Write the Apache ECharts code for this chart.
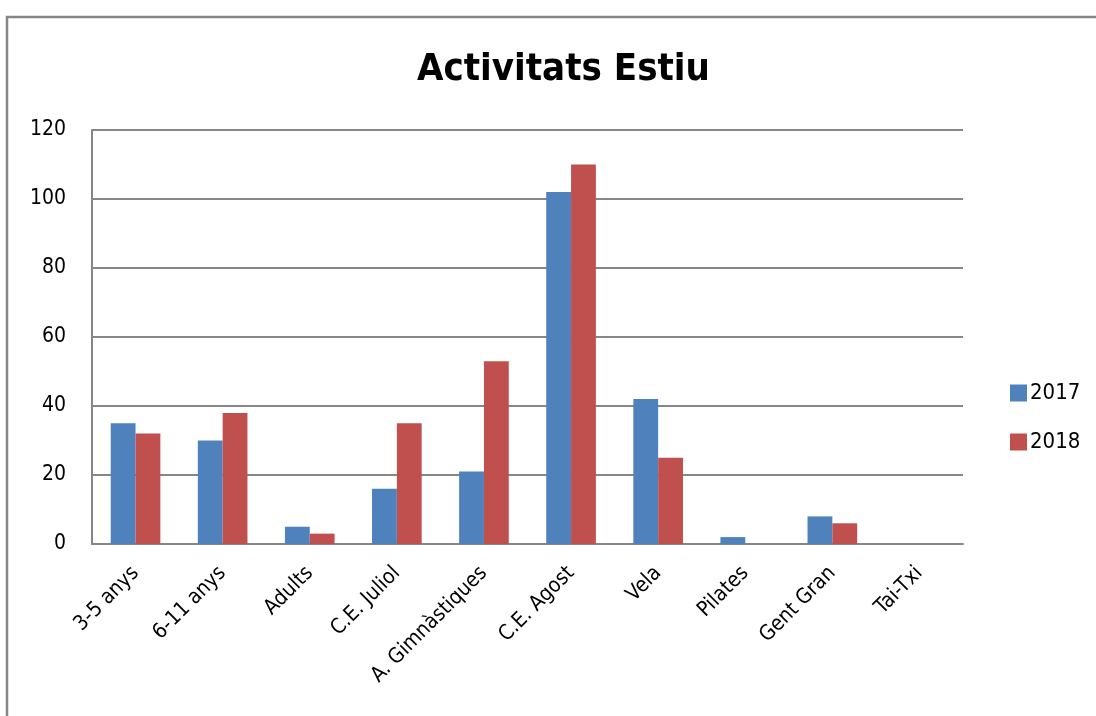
<!DOCTYPE html>
<html>
<head>
<meta charset="utf-8">
<script src="https://cdn.jsdelivr.net/npm/echarts@6/dist/echarts.min.js"></script>
<style>
	html, body { margin: 0; padding: 0; background: #fff; }
	#chart { width: 1096px; height: 716px; }
</style>
</head>
<body>
<div id="chart"></div>
<script>
// dades del gràfic
let categories = ['3-5 anys', '6-11 anys', 'Adults', 'C.E. Juliol', 'A. Gimnàstiques', 'C.E. Agost', 'Vela', 'Pilates', 'Gent Gran', 'Tai-Txi'];
let data2017 = [35, 30, 5, 16, 21, 102, 42, 2, 8, 0];
let data2018 = [32, 38, 3, 35, 53, 110, 25, 0, 6, 0];
let seriesNames = ['2017', '2018'];

(function() {
	let myChart = echarts.init(document.getElementById('chart'));

	let font = '"DejaVu Sans Condensed", "Liberation Sans", sans-serif';

	let option = {
		animation: false,
		color: ['#4f81bd', '#c0504d'],
		title: {
			text: 'Activitats Estiu',
			left: 412,
			top: 46,
			textStyle: {
				fontFamily: font,
				fontWeight: 'bold',
				fontSize: 38,
				color: '#000'
			}
		},
		// marc del gràfic
		graphic: [{
			type: 'rect',
			shape: { x: 7, y: 17, width: 1200, height: 800 },
			style: { fill: 'none', stroke: '#868686', lineWidth: 2.5 },
			silent: true
		}],
		legend: {
			orient: 'vertical',
			left: 1005,
			top: 377,
			itemWidth: 17,
			itemHeight: 17,
			itemGap: 27,
			icon: 'rect',
			data: seriesNames,
			textStyle: {
				fontFamily: font,
				fontSize: 22,
				color: '#000',
				padding: [0, 0, 0, -2]
			}
		},
		grid: {
			left: 92,
			right: 133,
			top: 130,
			bottom: 172
		},
		xAxis: {
			type: 'category',
			data: categories,
			axisTick: { show: false },
			axisLine: {
				lineStyle: { color: '#868686', width: 2 }
			},
			axisLabel: {
				rotate: 45,
				interval: 0,
				margin: 26,
				color: '#000',
				fontFamily: font,
				fontSize: 21
			}
		},
		yAxis: {
			type: 'value',
			min: 0,
			max: 120,
			interval: 20,
			axisLine: {
				show: true,
				lineStyle: { color: '#868686', width: 2 }
			},
			axisTick: { show: false },
			axisLabel: {
				color: '#000',
				fontFamily: font,
				fontSize: 21,
				margin: 26
			},
			splitLine: {
				lineStyle: { color: '#868686', width: 2 }
			}
		},
		series: [{
			name: seriesNames[0],
			type: 'bar',
			barGap: '0%',
			barCategoryGap: '43%',
			data: data2017
		}, {
			name: seriesNames[1],
			type: 'bar',
			barGap: '0%',
			barCategoryGap: '43%',
			data: data2018
		}]
	};

	myChart.setOption(option);

	window.addEventListener('resize', function() {
		myChart.resize();
	})
})();
</script>
</body>
</html>
